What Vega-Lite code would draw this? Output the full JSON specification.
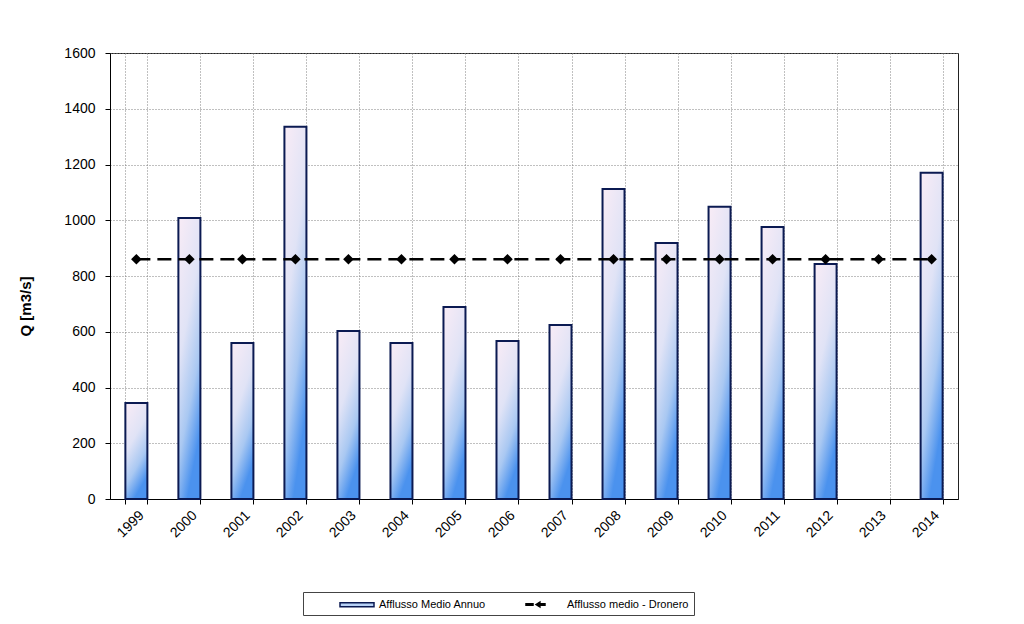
{
  "$schema": "https://vega.github.io/schema/vega-lite/v6.json",
  "autosize": "none",
  "width": 848,
  "height": 446,
  "padding": {"left": 110, "top": 53, "right": 66, "bottom": 125},
  "background": "white",
  "config": {
    "font": "Liberation Sans",
    "view": {"stroke": "#222222", "strokeWidth": 1},
    "axis": {
      "labelFont": "Liberation Sans",
      "labelFontSize": 14,
      "labelColor": "#000000",
      "domainColor": "#000000",
      "tickColor": "#000000",
      "gridColor": "#808080",
      "gridDash": [1, 2],
      "gridWidth": 1,
      "tickSize": 5
    }
  },
  "data": {
    "values": [
      {"year": "1999", "Q": 344, "media": 860},
      {"year": "2000", "Q": 1008, "media": 860},
      {"year": "2001", "Q": 560, "media": 860},
      {"year": "2002", "Q": 1335, "media": 860},
      {"year": "2003", "Q": 603, "media": 860},
      {"year": "2004", "Q": 560, "media": 860},
      {"year": "2005", "Q": 689, "media": 860},
      {"year": "2006", "Q": 567, "media": 860},
      {"year": "2007", "Q": 624, "media": 860},
      {"year": "2008", "Q": 1112, "media": 860},
      {"year": "2009", "Q": 918, "media": 860},
      {"year": "2010", "Q": 1048, "media": 860},
      {"year": "2011", "Q": 976, "media": 860},
      {"year": "2012", "Q": 843, "media": 860},
      {"year": "2013", "Q": null, "media": 860},
      {"year": "2014", "Q": 1170, "media": 860}
    ]
  },
  "encoding": {
    "x": {
      "field": "year",
      "type": "ordinal",
      "scale": {"paddingInner": 0.585, "paddingOuter": 0.29},
      "axis": {
        "title": null,
        "labelAngle": -45,
        "labelPadding": 4,
        "tickBand": "extent",
        "grid": true
      }
    }
  },
  "layer": [
    {
      "mark": {
        "type": "bar",
        "strokeWidth": 2,
        "fill": {
          "gradient": "linear",
          "x1": 0, "y1": 0, "x2": 0.4, "y2": 1,
          "stops": [
            {"offset": 0, "color": "#f9ecf6"},
            {"offset": 0.45, "color": "#e0e3f6"},
            {"offset": 0.75, "color": "#a9c8f2"},
            {"offset": 1, "color": "#4b92ee"}
          ]
        }
      },
      "encoding": {
        "y": {
          "field": "Q",
          "type": "quantitative",
          "scale": {"domain": [0, 1600]},
          "axis": {
            "title": "Q [m3/s]",
            "titleFont": "Liberation Sans",
            "titleFontSize": 15,
            "titleFontWeight": "bold",
            "titleColor": "#000000",
            "titleAngle": -90,
            "titleAlign": "center",
            "titleBaseline": "bottom",
            "titleX": -77,
            "titleY": 253,
            "format": "d",
            "values": [0, 200, 400, 600, 800, 1000, 1200, 1400, 1600],
            "labelPadding": 10,
            "grid": true
          }
        },
        "stroke": {
          "datum": "Afflusso Medio Annuo",
          "type": "nominal",
          "scale": {
            "domain": ["Afflusso Medio Annuo", "Afflusso medio - Dronero"],
            "range": ["#0b1a52", "#000000"]
          },
          "legend": {
            "title": null,
            "orient": "none",
            "legendX": 193,
            "legendY": 539,
            "direction": "horizontal",
            "columns": 2,
            "columnPadding": 10,
            "padding": 5,
            "strokeColor": "#444444",
            "fillColor": "#ffffff",
            "symbolSize": 169,
            "symbolOpacity": 1,
            "symbolStrokeWidth": 1.5,
            "labelFont": "Liberation Sans",
            "labelFontSize": 11,
            "labelColor": "#000000",
            "labelOffset": 56,
            "labelLimit": 300
          }
        }
      }
    },
    {
      "mark": {
        "type": "line",
        "strokeWidth": 2.5,
        "strokeDash": [14, 7],
        "point": {"shape": "diamond", "filled": true, "size": 60, "color": "#000000", "opacity": 1}
      },
      "encoding": {
        "y": {"field": "media", "type": "quantitative"},
        "stroke": {"datum": "Afflusso medio - Dronero", "type": "nominal"}
      }
    },
    {
      "transform": [{"filter": "false"}],
      "mark": {"type": "point", "filled": true, "opacity": 1},
      "encoding": {
        "y": {"field": "media", "type": "quantitative"},
        "fill": {
          "datum": "Afflusso medio - Dronero",
          "type": "nominal",
          "scale": {
            "domain": ["Afflusso Medio Annuo", "Afflusso medio - Dronero"],
            "range": ["#b8d2f6", "#000000"]
          }
        },
        "shape": {
          "datum": "Afflusso medio - Dronero",
          "type": "nominal",
          "scale": {
            "domain": ["Afflusso Medio Annuo", "Afflusso medio - Dronero"],
            "range": [
              "M3.77,-0.3H9V0.3H3.77Z",
              "M3.46,-0.1H4.54V0.1H3.46ZM5,0L5.6,-0.38V0.38ZM5.6,-0.1H6.38V0.1H5.6Z"
            ]
          }
        }
      }
    }
  ]
}
